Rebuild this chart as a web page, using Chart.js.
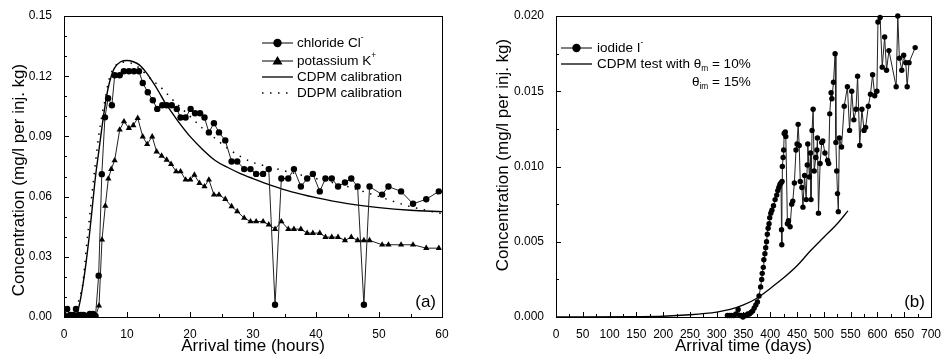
<!DOCTYPE html>
<html>
<head>
<meta charset="utf-8">
<script src="https://cdn.jsdelivr.net/npm/chart.js@4.4.1/dist/chart.umd.min.js"></script>
<style>
  body { margin: 0; background: #fff; }
  #wrap { position: relative; width: 943px; height: 360px; }
  .box { position: absolute; top: 0; height: 360px; }
</style>
</head>
<body>
<div id="wrap">
  <div class="box" style="left:0;width:470px"><canvas id="chartA" width="470" height="360"></canvas></div>
  <div class="box" style="left:470px;width:473px"><canvas id="chartB" width="473" height="360"></canvas></div>
</div>
<script>
// ---- panel (a): hours ----
const hoursCl = [0, 0.5, 1.0, 1.5, 1.9, 2.3, 2.7, 3.1, 3.5, 4.1, 4.6, 5.0,
  5.5, 6.0, 6.5, 7.0, 7.6, 8.05, 8.84, 9.5, 10.3, 11.1, 11.9, 12.5, 13.3, 14.1, 14.8, 15.6, 16.3, 17.1, 17.9,
  18.5, 19.3, 20.1, 20.8, 21.6, 22.3, 23.0, 23.8, 24.6, 25.6, 26.6, 27.5, 28.6, 29.6, 30.5, 31.6, 32.5,
  33.5, 34.5, 35.6, 36.5, 37.6, 38.6, 39.5, 40.6, 41.5, 42.5, 43.5, 44.6, 45.6, 46.6, 47.6, 48.5,
  50.5, 51.5, 53.5, 55.4, 57.5, 59.5];
const chloride = [0.001, 0.004, 0.001, 0.001, 0.004, 0.001, 0.001, 0.001, 0.0005, 0.0015, 0.0015, 0.0005,
  0.0206, 0.0712, 0.0995, 0.109, 0.1055, 0.1205, 0.1205, 0.1225, 0.1225, 0.1225, 0.1225, 0.1166, 0.112, 0.108, 0.1037, 0.1055, 0.1055, 0.1055, 0.1037,
  0.0994, 0.0994, 0.1037, 0.1015, 0.1015, 0.0994, 0.092, 0.0966, 0.092, 0.088, 0.0775, 0.0775, 0.0737, 0.0737, 0.0713, 0.0713, 0.0737,
  0.0061, 0.069, 0.069, 0.0737, 0.065, 0.069, 0.0713, 0.0626, 0.069, 0.069, 0.065, 0.067, 0.069, 0.065, 0.0061, 0.065,
  0.061, 0.065, 0.0626, 0.0564, 0.0587, 0.0626];

const hoursK = [0, 0.5, 1.0, 1.5, 2.0, 2.5, 3.0, 3.5, 4.0, 4.5, 5.0,
  5.56, 6.03, 6.56, 7.04, 7.5, 8.04, 8.84, 9.52, 10.3, 11.0, 11.7, 12.5, 13.2, 14.0, 14.7, 15.5, 16.3, 17.0, 17.8,
  18.5, 19.3, 20.05, 20.7, 21.5, 22.3, 23.0, 23.8, 24.6, 25.6, 26.6, 27.5, 28.6, 29.6, 30.5, 31.6, 32.5,
  33.5, 34.5, 35.6, 36.5, 37.6, 38.6, 39.5, 40.6, 41.5, 42.5, 43.5, 44.6, 45.6, 46.6, 47.6, 48.5,
  50.5, 51.5, 53.5, 55.4, 57.5, 59.5];
const potassium = [0.0003, 0.0003, 0.0003, 0.0003, 0.0003, 0.0003, 0.0003, 0.0003, 0.0003, 0.0003, 0.0003,
  0.0056, 0.0385, 0.0554, 0.0689, 0.0737, 0.078, 0.0933, 0.0974, 0.0941, 0.0955, 0.0991, 0.0899, 0.0861, 0.0899, 0.0824, 0.0803, 0.0783, 0.0762, 0.0725,
  0.0725, 0.0684, 0.0684, 0.0708, 0.0667, 0.065, 0.0684, 0.0609, 0.0609, 0.0587, 0.0551, 0.0526, 0.0493, 0.0476, 0.0476, 0.0476, 0.046,
  0.0438, 0.0476, 0.0438, 0.0438, 0.0438, 0.0418, 0.0418, 0.0418, 0.0398, 0.0398, 0.0398, 0.0382, 0.0398, 0.0382, 0.0382, 0.0382,
  0.036, 0.036, 0.036, 0.036, 0.0343, 0.0343];

const hoursModel = [0, 1, 1.5, 2, 2.5, 3, 3.5, 4, 4.5, 5, 5.5, 6, 6.5, 7, 7.5, 8, 9, 10, 11, 12, 13, 14, 15, 16, 17, 18,
  20, 22, 24, 26, 28, 30, 33, 36, 40, 45, 50, 55, 60];
const cdpmCalib = [0, 0, 0, 0.001, 0.007, 0.016, 0.027, 0.040, 0.055, 0.070, 0.082, 0.094, 0.105, 0.114, 0.120, 0.124, 0.1272, 0.1278, 0.1272, 0.1255, 0.122, 0.1175, 0.1125, 0.107, 0.1025, 0.098,
  0.090, 0.0835, 0.078, 0.0745, 0.0715, 0.069, 0.0655, 0.0625, 0.0595, 0.0565, 0.0545, 0.0532, 0.0525];
const ddpmCalib = [0, 0, 0.002, 0.005, 0.010, 0.017, 0.033, 0.048, 0.063, 0.077, 0.090, 0.100, 0.108, 0.1165, 0.1215, 0.1245, 0.127, 0.127, 0.126, 0.124, 0.121, 0.118, 0.1155, 0.1125, 0.109, 0.106,
  0.100, 0.094, 0.089, 0.084, 0.080, 0.077, 0.0745, 0.072, 0.069, 0.065, 0.060, 0.055, 0.0515];

const xTicksA = [0, 10, 20, 30, 40, 50, 60];
const yTicksA = [0, 0.03, 0.06, 0.09, 0.12, 0.15];

// ---- panel (b): days ----
const daysI = [320, 324, 328, 332, 336, 340, 343, 346, 349, 352, 355, 358, 361, 364, 367, 370, 373, 376, 379,
  382, 384, 385, 387, 388, 390, 391.5, 393, 394.5, 396, 397.7, 399, 401, 403, 406, 409, 412, 414, 416, 418, 420,
  421, 421.5, 422, 422.5, 424, 425, 426, 428, 429, 432, 434, 437, 440, 442, 445, 448, 450, 452, 454, 456, 459,
  461, 464, 467, 469, 470, 473, 475, 476, 478, 480, 482, 485, 487, 488, 490, 493, 496, 498, 502, 507, 509,
  511, 513.5, 515, 518, 521, 522.5, 524, 525.5, 527, 529, 533, 538, 544, 548, 552, 556, 560, 563, 567, 571,
  575, 578, 583, 587, 591, 595, 599, 601, 605, 609, 613.5, 617, 621.5, 635, 638, 641, 645.5, 649, 653, 655.5, 659, 670.5];
const iodide = [0.0001, 0.0001, 0.0001, 0.0001, 0.0002, 0.0005, 0.0001, 0.0001, 0.0, 0.0001, 0.0001, 0.0002, 0.0002, 0.0003, 0.0004, 0.0006, 0.0008, 0.0010, 0.0014,
  0.0020, 0.0025, 0.0029, 0.0033, 0.0038, 0.0042, 0.0046, 0.0050, 0.0055, 0.0059, 0.0062, 0.0066, 0.0069, 0.0071, 0.0074, 0.0078, 0.0081, 0.0084, 0.0086, 0.0088, 0.0089,
  0.0058, 0.0048, 0.0090, 0.0100, 0.0106, 0.0111, 0.0122, 0.0123, 0.0120, 0.0062, 0.0064, 0.0060, 0.0075, 0.0077, 0.0089, 0.0111, 0.0115, 0.0128, 0.0114, 0.0090, 0.0086,
  0.0073, 0.0094, 0.0078, 0.0101, 0.0115, 0.0093, 0.0109, 0.0078, 0.0124, 0.0138, 0.0097, 0.0106, 0.0111, 0.0119, 0.0069, 0.0102, 0.0116, 0.0117, 0.0109, 0.0104, 0.0102,
  0.0135, 0.0149, 0.0145, 0.0156, 0.0175, 0.0116, 0.0097, 0.0082, 0.0070, 0.0119, 0.0113, 0.0140, 0.0153, 0.0124, 0.0150, 0.0131, 0.0138, 0.0160, 0.0114, 0.0138,
  0.0124, 0.0126, 0.0140, 0.0148, 0.0161, 0.0147, 0.0150, 0.0196, 0.0199, 0.0166, 0.0186, 0.0164, 0.0177, 0.0153, 0.0200, 0.0172, 0.0164, 0.0174, 0.0169, 0.0153, 0.0169, 0.0179];

const daysModel = [0, 150, 200, 250, 300, 325, 350, 375, 400, 425, 450, 475, 500, 525, 545];
const cdpmTest = [0, 0.00002, 0.00005, 0.00015, 0.00033, 0.0005, 0.0008, 0.00125, 0.0019, 0.0026, 0.0034, 0.0044, 0.0053, 0.0062, 0.00705];

const xTicksB = [0, 50, 100, 150, 200, 250, 300, 350, 400, 450, 500, 550, 600, 650, 700];
const yTicksB = [0, 0.005, 0.010, 0.015, 0.020];

const FONT = "'Liberation Sans', Arial, sans-serif";
Chart.defaults.font.family = FONT;
Chart.defaults.color = '#000';

const pairs = (xs, ys) => xs.map((x, i) => ({x: x, y: ys[i]}));

// frame around the plot area plus inward tick marks
const frameTicks = {
  id: 'frameTicks',
  afterDatasetsDraw(chart, args, opts) {
    const {ctx, chartArea: a, scales} = chart;
    const xs = scales.x, ys = scales.y;
    ctx.save();
    ctx.strokeStyle = '#000';
    ctx.lineWidth = 1;
    ctx.strokeRect(Math.round(a.left) + 0.5, Math.round(a.top) + 0.5,
      Math.round(a.right - a.left), Math.round(a.bottom - a.top));
    ctx.beginPath();
    const isMajor = (v, step) => Math.abs(v / step - Math.round(v / step)) < 1e-6;
    for (let i = 0; xs.min + i * opts.xMinor <= xs.max + 1e-9; i++) {
      const v = xs.min + i * opts.xMinor;
      const px = Math.round(xs.getPixelForValue(v)) + 0.5;
      ctx.moveTo(px, a.bottom);
      ctx.lineTo(px, a.bottom - (isMajor(v, opts.xMajor) ? 5 : 3));
    }
    for (let i = 0; ys.min + i * opts.yMinor <= ys.max + 1e-12; i++) {
      const v = ys.min + i * opts.yMinor;
      const py = Math.round(ys.getPixelForValue(v)) + 0.5;
      ctx.moveTo(a.left, py);
      ctx.lineTo(a.left + (isMajor(v, opts.yMajor) ? 5 : 3), py);
    }
    ctx.stroke();
    ctx.restore();
  }
};

// legend with line samples and super/subscripts, y title, panel tag
function richText(ctx, x, y, parts, size) {
  parts.forEach(([txt, shift]) => {
    const s = shift ? size * 0.62 : size;
    ctx.font = s + 'px ' + FONT;
    const dy = shift < 0 ? -size * 0.38 : (shift > 0 ? size * 0.38 : 0);
    ctx.fillText(txt, x, y + dy);
    x += ctx.measureText(txt).width;
  });
}
const legendBox = {
  id: 'legendBox',
  afterDraw(chart, args, opts) {
    const ctx = chart.ctx;
    ctx.save();
    ctx.fillStyle = '#000';
    ctx.strokeStyle = '#000';
    ctx.textBaseline = 'middle';
    opts.items.forEach(it => {
      if (it.sample) {
        ctx.beginPath();
        ctx.lineWidth = it.sample === 'dots' ? 1.5 : (it.marker ? 1 : 1.3);
        ctx.setLineDash(it.sample === 'dots' ? [1.5, 6.5] : []);
        ctx.moveTo(opts.x0, it.y);
        ctx.lineTo(opts.x1, it.y);
        ctx.stroke();
        ctx.setLineDash([]);
        const mx = (opts.x0 + opts.x1) / 2;
        if (it.marker === 'circle') {
          ctx.beginPath();
          ctx.arc(mx, it.y, 4.2, 0, Math.PI * 2);
          ctx.fill();
        } else if (it.marker === 'triangle') {
          ctx.beginPath();
          ctx.moveTo(mx, it.y - 5);
          ctx.lineTo(mx + 5, it.y + 3.5);
          ctx.lineTo(mx - 5, it.y + 3.5);
          ctx.closePath();
          ctx.fill();
        }
      }
      richText(ctx, it.tx || opts.tx, it.y, it.parts, opts.size);
    });
    // panel label
    ctx.font = '17px ' + FONT;
    ctx.textAlign = 'right';
    ctx.fillText(opts.tag, chart.chartArea.right - 6, chart.chartArea.bottom - 15);
    // y axis title
    ctx.textAlign = 'center';
    ctx.font = '17px ' + FONT;
    ctx.translate(opts.titleX, opts.titleY);
    ctx.rotate(-Math.PI / 2);
    ctx.fillText('Concentration (mg/l per inj. kg)', 0, 0);
    ctx.restore();
  }
};

function axisX(ticksArr, title, h, pad) {
  return {
    type: 'linear', min: ticksArr[0], max: ticksArr[ticksArr.length - 1],
    afterBuildTicks: s => { s.ticks = ticksArr.map(v => ({value: v})); },
    afterFit: s => { s.height = h; },
    grid: {display: false}, border: {display: false},
    ticks: {font: {size: 12}, padding: 2, maxRotation: 0, autoSkip: false, callback: v => String(v)},
    title: {display: true, text: title, font: {size: 17}, padding: {top: 0, bottom: pad}}
  };
}
function axisY(ticksArr, dec, w) {
  return {
    type: 'linear', min: ticksArr[0], max: ticksArr[ticksArr.length - 1],
    afterBuildTicks: s => { s.ticks = ticksArr.map(v => ({value: v})); },
    afterFit: s => { s.width = w; },
    grid: {display: false}, border: {display: false},
    ticks: {font: {size: 12}, padding: 4, autoSkip: false, callback: v => Number(v).toFixed(dec)},
    title: {display: false}
  };
}

new Chart(document.getElementById('chartA'), {
  type: 'scatter',
  data: {
    datasets: [{
      label: 'chloride Cl-',
      data: pairs(hoursCl, chloride),
      showLine: true, borderColor: '#222', borderWidth: 1,
      pointStyle: 'circle', pointRadius: 3.2, pointBackgroundColor: '#000', pointBorderWidth: 0
    }, {
      label: 'potassium K+',
      data: pairs(hoursK, potassium),
      showLine: true, borderColor: '#222', borderWidth: 1,
      pointStyle: 'triangle', pointRadius: 3.6, pointBackgroundColor: '#000', pointBorderWidth: 0
    }, {
      label: 'CDPM calibration',
      data: pairs(hoursModel, cdpmCalib),
      showLine: true, borderColor: '#000', borderWidth: 1.4, pointRadius: 0,
      cubicInterpolationMode: 'monotone'
    }, {
      label: 'DDPM calibration',
      data: pairs(hoursModel, ddpmCalib),
      showLine: true, borderColor: '#000', borderWidth: 1.5, borderDash: [1.5, 6.5], pointRadius: 0,
      cubicInterpolationMode: 'monotone'
    }]
  },
  options: {
    responsive: false, animation: false, devicePixelRatio: 1, events: [],
    layout: {padding: {left: 0, top: 16, right: 28, bottom: 0}},
    scales: {x: axisX(xTicksA, 'Arrival time (hours)', 43, 3), y: axisY(yTicksA, 2, 64)},
    plugins: {
      legend: {display: false}, tooltip: {enabled: false},
      frameTicks: {xMinor: 5, xMajor: 10, yMinor: 0.01, yMajor: 0.03},
      legendBox: {
        x0: 262, x1: 293, tx: 297, size: 13.5, tag: '(a)', titleX: 19, titleY: 180,
        items: [
          {y: 43, sample: 'line', marker: 'circle', parts: [['chloride Cl', 0], ['-', -1]]},
          {y: 61, sample: 'line', marker: 'triangle', parts: [['potassium K', 0], ['+', -1]]},
          {y: 77, sample: 'line', parts: [['CDPM calibration', 0]]},
          {y: 93, sample: 'dots', parts: [['DDPM calibration', 0]]}
        ]
      }
    }
  },
  plugins: [frameTicks, legendBox]
});

new Chart(document.getElementById('chartB'), {
  type: 'scatter',
  data: {
    datasets: [{
      label: 'iodide I-',
      data: pairs(daysI, iodide),
      showLine: true, borderColor: '#222', borderWidth: 1, clip: false,
      pointStyle: 'circle', pointRadius: 2.7, pointBackgroundColor: '#000', pointBorderWidth: 0
    }, {
      label: 'CDPM test',
      data: pairs(daysModel, cdpmTest),
      showLine: true, borderColor: '#000', borderWidth: 1.3, pointRadius: 0,
      cubicInterpolationMode: 'monotone'
    }]
  },
  options: {
    responsive: false, animation: false, devicePixelRatio: 1, events: [],
    layout: {padding: {left: 0, top: 16, right: 10, bottom: 0}},
    scales: {x: axisX(xTicksB, 'Arrival time (days)', 43, 3), y: axisY(yTicksB, 3, 86)},
    plugins: {
      legend: {display: false}, tooltip: {enabled: false},
      frameTicks: {xMinor: 25, xMajor: 50, yMinor: 0.0025, yMajor: 0.005},
      legendBox: {
        x0: 91, x1: 122, tx: 127, size: 13.5, tag: '(b)', titleX: 33, titleY: 155,
        items: [
          {y: 48, sample: 'line', marker: 'circle', parts: [['iodide I', 0], ['-', -1]]},
          {y: 64, sample: 'line', parts: [['CDPM test with \u03B8', 0], ['m', 1], [' = 10%', 0]]},
          {y: 82, tx: 222, parts: [['\u03B8', 0], ['im', 1], [' = 15%', 0]]}
        ]
      }
    }
  },
  plugins: [frameTicks, legendBox]
});
</script>
</body>
</html>
